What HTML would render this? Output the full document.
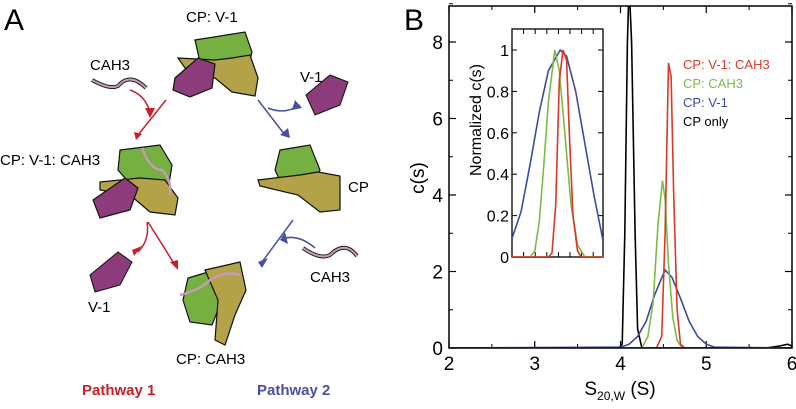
<!DOCTYPE html>
<html><head><meta charset="utf-8"><style>
body{margin:0;background:#fff}
svg{display:block;font-family:"Liberation Sans",sans-serif}
</style></head><body>
<svg id="fig" width="796" height="409" viewBox="0 0 796 409">
<g id="panelA">
<text x="4" y="30" font-size="30">A</text>
<text x="186" y="22" font-size="15">CP: V-1</text>
<g stroke="#111" stroke-width="1.2">
<path d="M195 40 L245 32 L252 52 L248 68 L218 72 L200 62Z" fill="#76b041"/>
<path d="M178 58 L215 60 L232 58 L250 55 L258 78 L255 96 L232 92 L215 78 L185 68Z" fill="#b4a248"/>
<path d="M175 78 L198 58 L215 64 L212 88 L190 97 L173 90Z" fill="#8c3c7a"/>
</g>
<text x="90" y="70" font-size="15">CAH3</text>
<path d="M92 80 Q110 90 118 86 Q130 72 146 88" fill="none" stroke="#222" stroke-width="4"/>
<path d="M92 80 Q110 90 118 86 Q130 72 146 88" fill="none" stroke="#c79ab9" stroke-width="2"/>
<text x="300" y="82" font-size="15">V-1</text>
<path d="M306 95 L330 75 L348 82 L340 105 L315 115Z" fill="#8c3c7a" stroke="#111"/>
<g fill="none" stroke-width="1.5" stroke="#c8202a">
<path d="M130 90 Q145 95 150 112"/><path d="M166 100 L138 135"/><path d="M147 222 Q150 240 138 252"/><path d="M148 222 L175 265"/>
</g>
<g fill="#c8202a">
<polygon points="145,108 155,108 150,118"/><polygon points="134,132 142,134 136,140"/><polygon points="132,250 142,246 134,256"/><polygon points="170,262 178,260 178,270"/>
</g>
<g fill="none" stroke-width="1.5" stroke="#4a4fa0">
<path d="M258 100 L285 135"/><path d="M268 108 Q285 115 300 105"/><path d="M293 220 L262 262"/><path d="M315 248 Q300 235 285 238"/>
</g>
<g fill="#4a4fa0">
<polygon points="280,135 290,138 288,128"/><polygon points="295,100 302,108 292,110"/><polygon points="258,262 268,258 262,268"/><polygon points="285,232 288,244 280,240"/>
</g>
<text x="0" y="165" font-size="15">CP: V-1: CAH3</text>
<g stroke="#111" stroke-width="1.2">
<path d="M120 150 L160 145 L172 165 L168 190 L140 195 L118 170Z" fill="#76b041"/>
<path d="M100 182 L140 178 L165 180 L178 198 L175 215 L150 212 L130 195 L100 190Z" fill="#b4a248"/>
<path d="M93 200 L125 178 L138 188 L130 210 L100 218Z" fill="#8c3c7a"/>
<path d="M142 148 Q150 170 162 170 Q172 180 170 195" fill="none" stroke="#c79ab9" stroke-width="2.5"/>
</g>
<g stroke="#111" stroke-width="1.2">
<path d="M280 150 L310 145 L320 170 L312 190 L285 192 L275 170Z" fill="#76b041"/>
<path d="M258 180 L300 175 L318 172 L340 176 L340 210 L320 212 L298 195 L260 186Z" fill="#b4a248"/>
</g>
<text x="348" y="192" font-size="15">CP</text>
<path d="M303 248 Q320 260 330 255 Q345 240 357 256" fill="none" stroke="#222" stroke-width="4"/>
<path d="M303 248 Q320 260 330 255 Q345 240 357 256" fill="none" stroke="#c79ab9" stroke-width="2"/>
<text x="310" y="282" font-size="15">CAH3</text>
<path d="M90 275 L118 252 L132 262 L120 285 L95 292Z" fill="#8c3c7a" stroke="#111"/>
<text x="88" y="312" font-size="15">V-1</text>
<g stroke="#111" stroke-width="1.2">
<path d="M188 278 L215 270 L222 300 L212 325 L190 322 L183 300Z" fill="#76b041"/>
<path d="M205 270 L240 262 L246 290 L235 315 L225 345 L215 340 L218 300Z" fill="#b4a248"/>
<path d="M180 295 Q200 290 210 280 Q225 270 240 275" fill="none" stroke="#c79ab9" stroke-width="2.5"/>
</g>
<text x="176" y="364" font-size="15">CP: CAH3</text>
<text x="82" y="395" font-size="15" font-weight="bold" fill="#c8202a">Pathway 1</text>
<text x="257" y="395" font-size="15" font-weight="bold" fill="#4a4fa0">Pathway 2</text>
</g>
<text x="404" y="30" font-size="30">B</text>
<g id="plot"></g>
</svg>
<script>
const xTicks=[2,3,4,5,6];
const yTicks=[0,2,4,6,8];
const insetYTicks=[0,0.2,0.4,0.6,0.8,1];
const seriesNames=["CP: V-1: CAH3","CP: CAH3","CP: V-1","CP only"];
const seriesColors=["#d83a26","#7cbb4a","#3a4c9e","#000"];
const blackX=[2,3.98,4.02,4.05,4.08,4.1,4.13,4.17,4.2,4.25,5.7,5.85,5.95,6];
const blackY=[0,0,0.1,3,8,9.5,8,3,0.5,0,0,0.05,0.1,0.05];
const redX=[2,4.42,4.48,4.52,4.56,4.59,4.62,4.66,4.7,4.75,6];
const redY=[0,0,0.3,3,7.45,7.1,4,1,0.1,0,0];
const greenX=[2,4.25,4.32,4.38,4.44,4.49,4.52,4.56,4.61,4.66,4.72,6];
const greenY=[0,0,0.3,1.2,3.3,4.37,3.9,2.2,0.8,0.2,0,0];
const blueX=[2,4.0,4.1,4.2,4.3,4.4,4.52,4.6,4.7,4.8,4.9,5.0,5.1,6];
const blueY=[0,0.02,0.1,0.3,0.7,1.4,2.04,1.85,1.3,0.7,0.3,0.1,0.02,0];
const inBlueX=[0,0.1,0.2,0.3,0.4,0.53,0.6,0.7,0.8,0.9,1];
const inBlueY=[0.09,0.22,0.45,0.7,0.9,1,0.97,0.8,0.55,0.3,0.08];
const inGreenX=[0,0.2,0.25,0.3,0.35,0.4,0.47,0.52,0.58,0.65,0.72,0.8,1];
const inGreenY=[0,0,0.03,0.17,0.45,0.75,1,0.9,0.6,0.25,0.06,0,0];
const inRedX=[0,0.4,0.44,0.48,0.52,0.56,0.6,0.63,0.67,0.72,0.76,1];
const inRedY=[0,0,0.02,0.25,0.85,1,0.95,0.6,0.2,0.03,0,0];

const NS="http://www.w3.org/2000/svg";
const g=document.getElementById('plot');
const L=449,R=792,T=6,B=348;
const sx=v=>L+(v-2)/4*(R-L);
const sy=v=>B-v*38.25;
const IL=512,IR=603,IT=29,IB=257;
const ix=v=>IL+v*(IR-IL);
const iy=v=>IB-v*207;
function el(t,a,p){const e=document.createElementNS(NS,t);for(const k in a)e.setAttribute(k,a[k]);(p||g).appendChild(e);return e;}
const cp=el('clipPath',{id:'cm'});el('rect',{x:L,y:T,width:R-L,height:B-T},cp);
const ci=el('clipPath',{id:'ci'});el('rect',{x:IL,y:IT,width:IR-IL,height:IB-IT},ci);
function line(xs,ys,fx,fy,col,clip,name){const d=xs.map((x,i)=>(i?'L':'M')+fx(x).toFixed(1)+' '+fy(ys[i]).toFixed(1)).join(' ');
const p=el('path',{d:d,fill:'none',stroke:col,'stroke-width':1.6,'clip-path':'url(#'+clip+')'});

}
// main ticks
xTicks.forEach(v=>{const x=sx(v);el('line',{x1:x,y1:B,x2:x,y2:B-7,stroke:'#000','stroke-width':1.2});el('line',{x1:x,y1:T,x2:x,y2:T+7,stroke:'#000','stroke-width':1.2});
if(v<6){el('line',{x1:sx(v+0.5),y1:B,x2:sx(v+0.5),y2:B-4,stroke:'#000'});el('line',{x1:sx(v+0.5),y1:T,x2:sx(v+0.5),y2:T+4,stroke:'#000'});}
const t=el('text',{x:x,y:B+22,'font-size':19,'text-anchor':'middle'});t.textContent=v;

});
yTicks.forEach(v=>{const y=sy(v);el('line',{x1:L,y1:y,x2:L+7,y2:y,stroke:'#000','stroke-width':1.2});el('line',{x1:R,y1:y,x2:R-7,y2:y,stroke:'#000','stroke-width':1.2});
el('line',{x1:L,y1:sy(v+1),x2:L+4,y2:sy(v+1),stroke:'#000'});el('line',{x1:R,y1:sy(v+1),x2:R-4,y2:sy(v+1),stroke:'#000'});
const t=el('text',{x:L-6,y:y+7,'font-size':19,'text-anchor':'end'});t.textContent=v;

});
const xt=el('text',{x:620,y:395,'font-size':19,'text-anchor':'middle'});xt.innerHTML='S<tspan font-size="12" dy="5">20,W</tspan><tspan dy="-5"> (S)</tspan>';


const yt=el('text',{x:0,y:0,'font-size':19,'text-anchor':'middle',transform:'translate(424,178) rotate(-90)'});yt.textContent='c(s)';


line(blackX,blackY,sx,sy,seriesColors[3],'cm','series-cp-only');
line(blueX,blueY,sx,sy,seriesColors[2],'cm','series-cp-v1');
line(greenX,greenY,sx,sy,seriesColors[1],'cm','series-cp-cah3');
line(redX,redY,sx,sy,seriesColors[0],'cm','series-cp-v1-cah3');
const fr=el('rect',{x:L,y:T,width:R-L,height:B-T,fill:'none',stroke:'#000','stroke-width':1.5});


seriesNames.forEach((n,i)=>{const t=el('text',{x:683,y:69+i*19,'font-size':13,fill:seriesColors[i]});t.textContent=n;

});
// inset
const ib=el('rect',{x:IL,y:IT,width:IR-IL,height:IB-IT,fill:'#fff',stroke:'#000','stroke-width':1.3});


for(let k=1;k<8;k++){const x=IL+k*11.6;el('line',{x1:x,y1:IB,x2:x,y2:IB-5,stroke:'#000'});el('line',{x1:x,y1:IT,x2:x,y2:IT+5,stroke:'#000'});}
insetYTicks.forEach(v=>{const y=iy(v);el('line',{x1:IL,y1:y,x2:IL+5,y2:y,stroke:'#000'});el('line',{x1:IR,y1:y,x2:IR-5,y2:y,stroke:'#000'});
const t=el('text',{x:IL-3,y:y+6,'font-size':16,'text-anchor':'end'});t.textContent=v;

});
const iyt=el('text',{x:0,y:0,'font-size':16,'text-anchor':'middle',transform:'translate(481,120) rotate(-90)'});iyt.textContent='Normalized c(s)';


line(inBlueX,inBlueY,ix,iy,seriesColors[2],'ci','inset-series-cp-v1');
line(inGreenX,inGreenY,ix,iy,seriesColors[1],'ci','inset-series-cp-cah3');
line(inRedX,inRedY,ix,iy,seriesColors[0],'ci','inset-series-cp-v1-cah3');
</script>
</body></html>
